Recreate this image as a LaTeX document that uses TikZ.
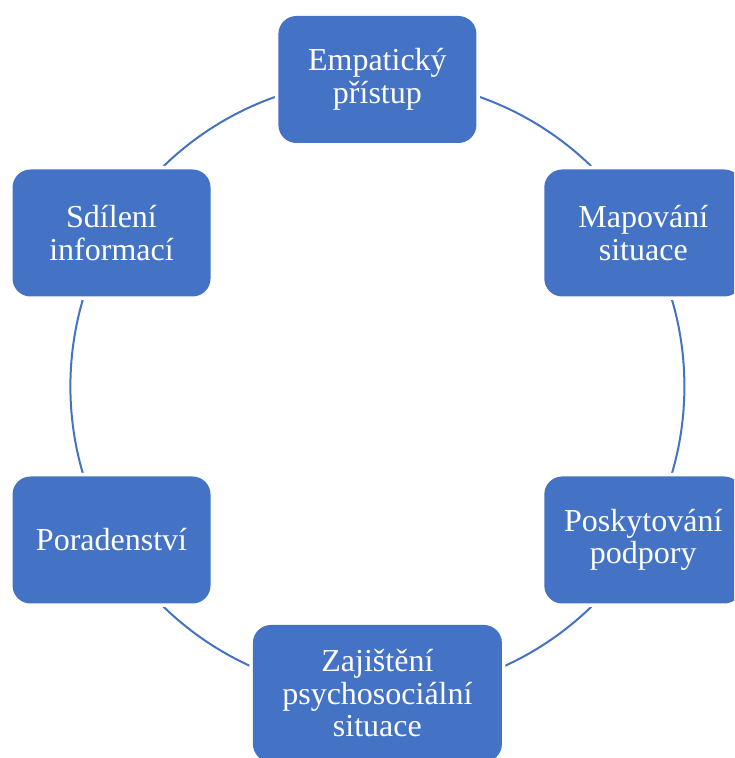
\documentclass[tikz,border=0pt]{standalone}
\usepackage{fontspec}
\setmainfont{Liberation Serif}
\usetikzlibrary{calc}
\definecolor{officeblue}{HTML}{4472C4}
\tikzset{
  cyclebox/.style={rectangle, rounded corners=18pt, fill=officeblue,
    preaction={draw=white, line width=7pt},
    text=white, align=center, inner sep=0pt,
    minimum width=198pt, minimum height=127pt,
    font=\fontsize{32pt}{32.5pt}\selectfont},
  ring/.style={draw=officeblue, line width=2pt}
}
\begin{document}
\begin{tikzpicture}[x=1pt,y=1pt]
\useasboundingbox (0,0) rectangle (734,758);
\clip (0,0) rectangle (734,758);
\coordinate (c) at (377.4,371.5);
\draw[ring] (c) circle[radius=307];
\node[cyclebox] (emp) at ($(c)+(90:307)$) {Empatický\\přístup};
\node[cyclebox] (map) at ($(c)+(30:307)$) {Mapování\\situace};
\node[cyclebox] (pos) at ($(c)+(-30:307)$) {Poskytování\\podpory};
\node[cyclebox, minimum width=249pt, minimum height=137pt] (zaj) at ($(c)+(-90:307)$) {Zajištění\\psychosociální\\situace};
\node[cyclebox] (por) at ($(c)+(-150:307)$) {Poradenství};
\node[cyclebox] (sdi) at ($(c)+(150:307)$) {Sdílení\\informací};
\end{tikzpicture}
\end{document}
